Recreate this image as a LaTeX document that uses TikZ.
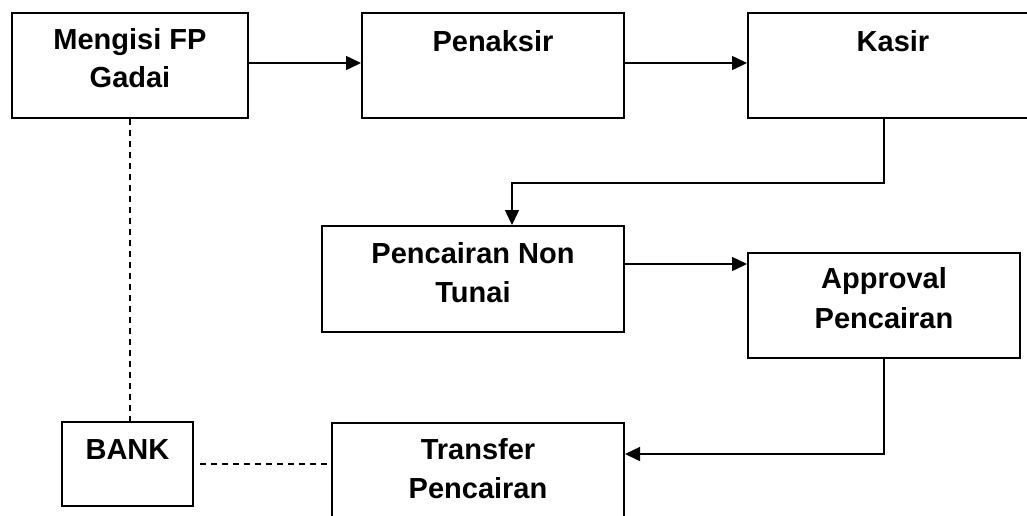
\documentclass[tikz,border=0pt]{standalone}
\usepackage{fontspec}
\setmainfont{Liberation Sans}
\usetikzlibrary{arrows.meta,calc}
\begin{document}
\begin{tikzpicture}[x=1pt,y=-1pt,
  box/.style={draw,line width=2pt,rectangle,inner sep=0pt},
  lbl/.style={anchor=base,inner sep=0pt,font=\fontsize{29}{34}\selectfont\bfseries},
  flow/.style={line width=1.5pt,-{Triangle[length=15pt,width=14pt]}},
  link/.style={line width=1.5pt,dash pattern=on 6pt off 5pt}]
\useasboundingbox[fill=white] (0,0) rectangle (1027,515);

% process boxes
\node[box,minimum width=236pt,minimum height=105pt] (b1) at (130,65.5) {};
\node[box,minimum width=262pt,minimum height=105pt] (b2) at (493,65.5) {};
\node[box,minimum width=290pt,minimum height=105pt] (b3) at (893,65.5) {};
\node[box,minimum width=302pt,minimum height=106pt] (b4) at (473,279) {};
\node[box,minimum width=272pt,minimum height=105pt] (b5) at (884,305.5) {};
\node[box,minimum width=131pt,minimum height=84pt] (b6) at (127.5,464) {};
\node[box,minimum width=292pt,minimum height=105pt] (b7) at (478,475.5) {};

% box captions, one node per line
\node[lbl] (t1a) at ($(b1.north)+(0,37)$) {Mengisi FP};
\node[lbl] (t1b) at ($(b1.north)+(0,75)$) {Gadai};
\node[lbl] (t2) at ($(b2.north)+(0,39)$) {Penaksir};
\node[lbl] (t3) at ($(b3.north)+(0,39)$) {Kasir};
\node[lbl] (t4a) at ($(b4.north)+(0,38)$) {Pencairan Non};
\node[lbl] (t4b) at ($(b4.north)+(0,77)$) {Tunai};
\node[lbl] (t5a) at ($(b5.north)+(0,36)$) {Approval};
\node[lbl] (t5b) at ($(b5.north)+(0,76)$) {Pencairan};
\node[lbl] (t6) at ($(b6.north)+(0,38)$) {BANK};
\node[lbl] (t7a) at ($(b7.north)+(0,37)$) {Transfer};
\node[lbl] (t7b) at ($(b7.north)+(0,76)$) {Pencairan};

% flow of the process
\draw[flow] ([yshift=2.5pt]b1.east) -- ([yshift=2.5pt]b2.west);
\draw[flow] ([yshift=2.5pt]b2.east) -- ([yshift=2.5pt]b3.west);
\coordinate (kbend) at (512,183);
\draw[flow] ([xshift=-9pt]b3.south) |- (kbend) -- (kbend |- b4.north);
\draw[flow] ([yshift=-39pt]b4.north east) -- ([yshift=-39pt]b4.north east -| b5.west);
\draw[flow] (b5.south) |- ([yshift=-32pt]b7.north east);

% links to the bank
\draw[link] (b1.south) -- (b1.south |- b6.north);
\draw[link] ([xshift=6pt]b6.east) -- (b7.west |- b6.east);
\end{tikzpicture}
\end{document}
